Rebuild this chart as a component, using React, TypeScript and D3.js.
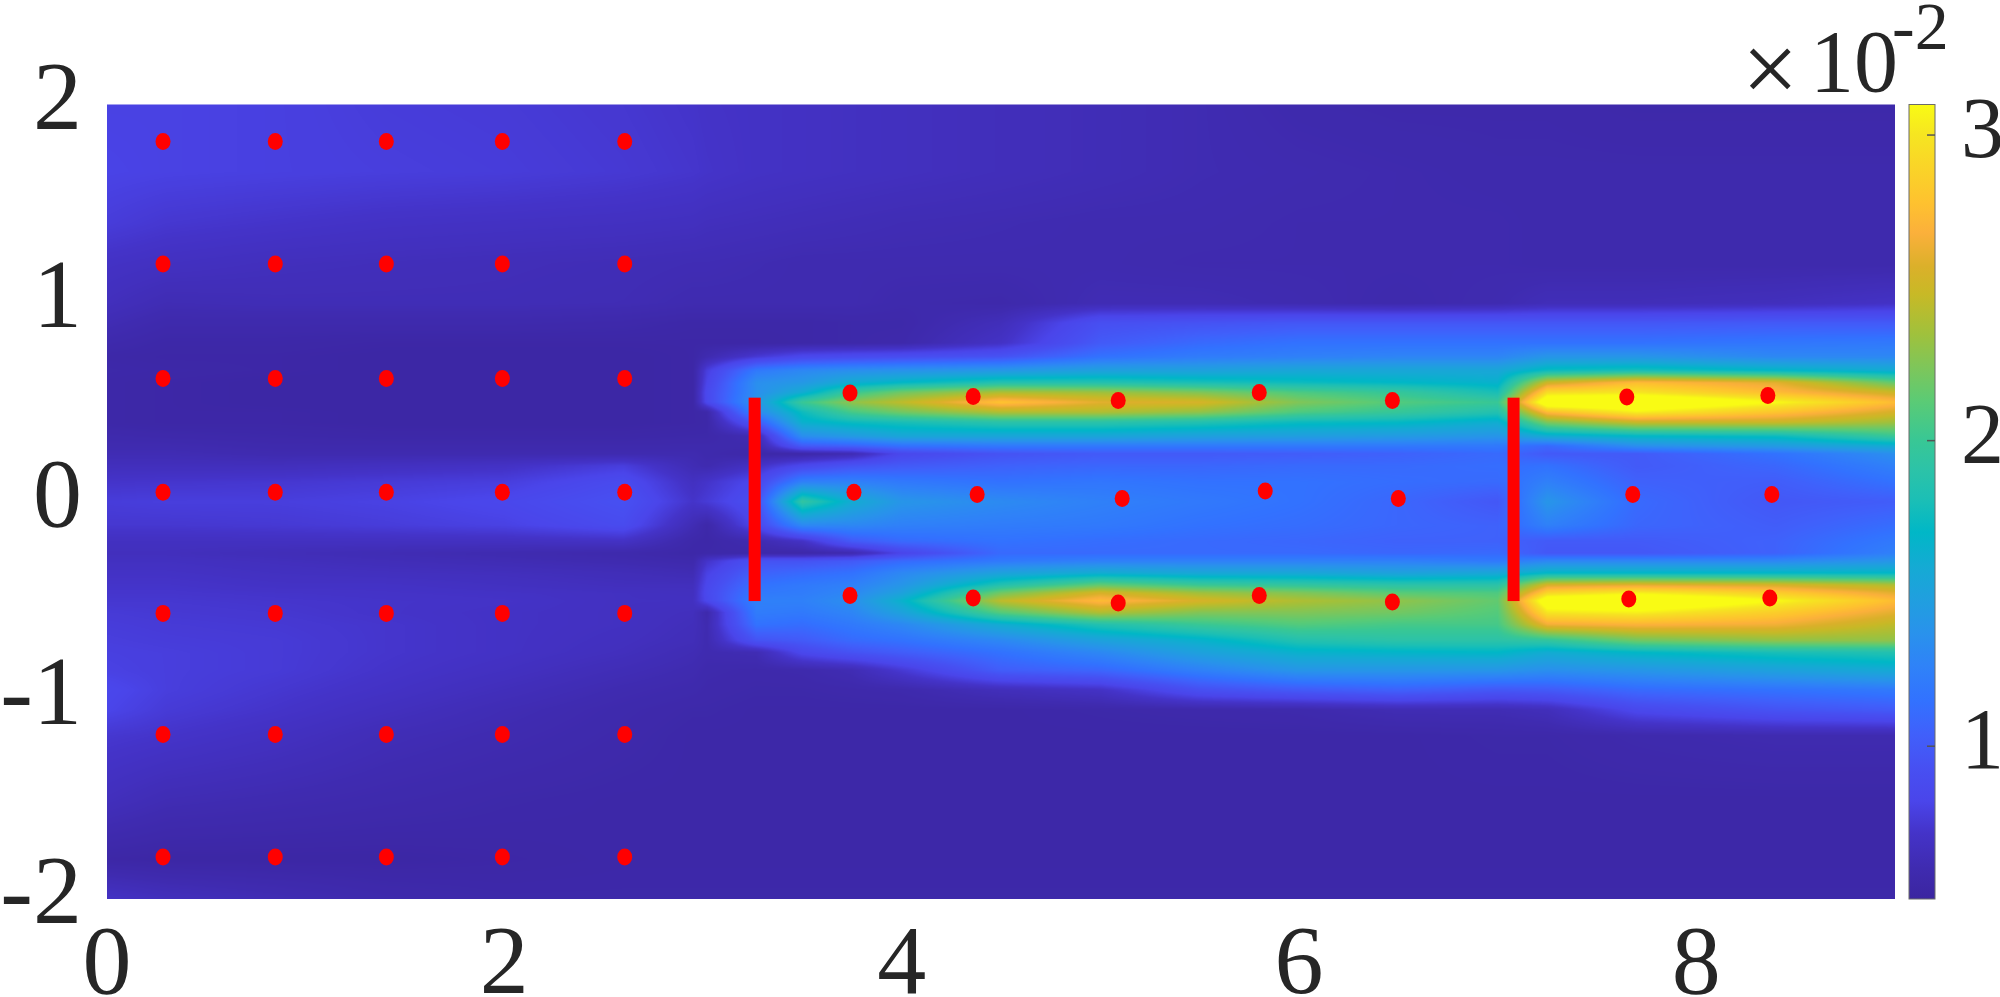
import React, { useMemo } from 'react';
import * as d3 from 'd3';

// tick labels
const xTicks = [0, 2, 4, 6, 8];
const yTicks = [2, 1, 0, -1, -2];
const cbTicks = [3, 2, 1];

// sensors
const dotsX = [0.282, 0.847, 1.406, 1.99, 2.606];
const dotsY = [1.814, 1.197, 0.62, 0.048, -0.562, -1.172, -1.788];
const wakeTop = [[3.74, 0.548], [4.36, 0.53], [5.09, 0.51], [5.8, 0.55], [6.47, 0.51], [7.65, 0.527], [8.36, 0.535]];
const wakeMid = [[3.76, 0.048], [4.38, 0.036], [5.11, 0.016], [5.83, 0.054], [6.5, 0.016], [7.68, 0.036], [8.38, 0.036]];
const wakeBot = [[3.74, -0.472], [4.36, -0.485], [5.09, -0.51], [5.8, -0.472], [6.47, -0.505], [7.66, -0.49], [8.37, -0.485]];
const barsX = [3.26, 7.08];
const barY = [0.524, -0.5];

// colour bar, value (x 10^-2) and colour
const cmapV = [0.5, 0.6, 0.715, 0.82, 0.93, 1.04, 1.15, 1.26, 1.37, 1.48, 1.585, 1.7, 1.81, 1.91, 2.0, 2.13, 2.24, 2.35, 2.48, 2.57, 2.68, 2.78, 3.0, 3.1];
const cmapC = ['#3b25a0', '#3f2bb0', '#4433c8', '#4a45ea', '#4750f2', '#4060fb', '#3272ff', '#2f82f8', '#2992ec', '#209fdf', '#15aad4', '#00b7c7', '#1cbfb5', '#2dc3a7', '#38c795', '#5bcb75', '#7ec65a', '#a0c13c', '#c8b926', '#dbb02a', '#fbb03b', '#fec22f', '#f6e521', '#f9fb14'];

// field samples: one row per y level, one value per gridX column (x 10^-2)
const gridX = [0, 0.3, 0.85, 1.4, 2, 2.6, 2.95, 3.02, 3.27, 3.5, 3.75, 4, 4.5, 5, 5.5, 6, 6.5, 7, 7.25, 7.7, 8.4, 9];
const gridY = [2, 1.66, 1.4, 1.2, 1, 0.9, 0.8, 0.73, 0.66, 0.6, 0.55, 0.5, 0.45, 0.4, 0.33, 0.28, 0.24, 0.18, 0.1, 0, -0.12, -0.2, -0.26, -0.3, -0.36, -0.42, -0.46, -0.5, -0.56, -0.62, -0.7, -0.76, -0.85, -0.95, -1.05, -1.18, -1.5, -1.8, -2];
const rowA = [.80, .80, .79, .77, .76, .74, .72, .71, .70, .69, .68, .67, .65, .63, .61, .58, .57, .57, .57, .56, .56, .56];
const rowB = [.81, .80, .79, .78, .77, .75, .73, .72, .70, .69, .68, .67, .65, .63, .61, .60, .59, .58, .58, .58, .58, .58];
const rowC = [.77, .74, .72, .70, .69, .68, .67, .66, .65, .64, .63, .62, .61, .60, .60, .59, .59, .59, .58, .58, .58, .58];
const rowD = [.70, .68, .66, .65, .64, .63, .62, .62, .61, .60, .60, .60, .60, .60, .59, .59, .59, .59, .58, .58, .58, .58];
const rowE = [.66, .62, .63, .63, .63, .62, .60, .60, .60, .60, .60, .58, .57, .62, .62, .60, .58, .60, .64, .64, .66, .70];
const rowF = [.62, .58, .58, .58, .58, .57, .55, .55, .55, .55, .56, .56, .65, .92, .95, .98, .98, .98, .98, .98, 1.0, 1.0];
const rowG = [.58, .55, .55, .54, .54, .54, .54, .54, .54, .55, .56, .57, .70, 1.0, 1.1, 1.15, 1.15, 1.15, 1.15, 1.15, 1.18, 1.2];
const rowH = [.55, .54, .54, .53, .53, .53, .54, .60, .75, .85, .88, .90, .95, 1.15, 1.22, 1.25, 1.28, 1.28, 1.4, 1.4, 1.3, 1.3];
const rowI = [.56, .55, .54, .53, .53, .53, .54, .78, 1.2, 1.3, 1.35, 1.38, 1.42, 1.5, 1.5, 1.55, 1.55, 1.55, 1.75, 1.8, 1.7, 1.6];
const rowJ = [.55, .54, .53, .53, .53, .53, .54, .82, 1.35, 1.42, 1.6, 1.7, 1.85, 1.85, 1.8, 1.75, 1.7, 1.65, 2.5, 2.75, 2.6, 2.15];
const rowK = [.55, .54, .53, .53, .53, .53, .54, .86, 1.35, 1.6, 2.0, 2.2, 2.4, 2.35, 2.25, 2.08, 1.98, 1.8, 2.95, 3.0, 2.75, 2.5];
const rowL = [.55, .54, .53, .53, .53, .53, .54, .85, 1.4, 2.0, 2.3, 2.45, 2.8, 2.6, 2.55, 2.25, 2.1, 2.0, 3.35, 3.4, 3.1, 2.75];
const rowM = [.55, .54, .54, .53, .53, .53, .54, .56, 1.3, 1.75, 2.05, 2.2, 2.4, 2.4, 2.3, 2.08, 1.98, 1.85, 2.75, 3.05, 2.8, 2.55];
const rowN = [.55, .54, .54, .53, .53, .53, .54, .55, 1.0, 1.65, 1.75, 1.8, 1.9, 1.9, 1.85, 1.75, 1.72, 1.62, 2.25, 2.5, 2.5, 2.35];
const rowO = [.58, .57, .56, .55, .55, .55, .56, .56, .62, 1.35, 1.45, 1.55, 1.55, 1.55, 1.5, 1.48, 1.45, 1.4, 1.6, 1.7, 1.75, 2.0];
const rowP = [.6, .6, .58, .58, .58, .58, .58, .58, .58, 1.0, 1.05, 1.15, 1.2, 1.2, 1.2, 1.2, 1.2, 1.2, 1.1, 1.35, 1.45, 1.6];
const rowQ = [.62, .62, .6, .6, .6, .6, .6, .58, .56, .56, .62, .85, .95, 1.0, 1.0, 1.02, 1.05, 1.1, 1.0, 1.0, 1.15, 1.35];
const rowR = [.66, .66, .66, .68, .7, .78, .62, .6, .7, .85, .95, 1.0, 1.05, 1.08, 1.08, 1.1, 1.1, 1.12, 1.15, 1.0, 1.08, 1.25];
const rowS = [.72, .73, .74, .76, .78, .88, .68, .72, .85, 1.25, 1.25, 1.2, 1.15, 1.18, 1.15, 1.15, 1.12, 1.1, 1.25, 1.05, 1.02, 1.15];
const rowT = [.77, .78, .78, .8, .84, .93, .72, .76, .92, 1.95, 1.6, 1.4, 1.32, 1.25, 1.2, 1.15, 1.08, .98, 1.4, 1.1, .98, 1.02];
const rowU = [.74, .74, .75, .77, .8, .88, .62, .56, .85, 1.3, 1.3, 1.25, 1.22, 1.2, 1.15, 1.12, 1.08, 1.05, 1.25, 1.08, 1.02, 1.12];
const rowV = [.68, .68, .68, .68, .68, .7, .56, .55, .6, .7, 1.0, 1.1, 1.15, 1.12, 1.1, 1.08, 1.05, 1.05, 1.0, 1.0, 1.05, 1.2];
const rowW = [.66, .66, .64, .62, .6, .58, .55, .56, .56, .56, .6, .82, 1.1, 1.1, 1.1, 1.1, 1.08, 1.1, .98, .98, 1.05, 1.25];
const rowX = [.68, .68, .66, .64, .62, .6, .58, .72, .95, .95, 1.0, 1.1, 1.2, 1.25, 1.25, 1.25, 1.25, 1.2, 1.3, 1.3, 1.3, 1.4];
const rowY = [.7, .7, .68, .67, .66, .64, .62, .80, 1.05, 1.1, 1.15, 1.3, 1.5, 1.6, 1.55, 1.55, 1.5, 1.55, 1.7, 1.7, 1.7, 1.7];
const rowZ = [.72, .72, .7, .7, .68, .66, .66, .84, 1.15, 1.2, 1.25, 1.4, 1.85, 2.15, 2.0, 1.95, 1.9, 1.9, 2.55, 2.6, 2.55, 2.4];
const rowAa = [.73, .73, .72, .71, .7, .68, .67, .86, 1.2, 1.22, 1.3, 1.5, 2.2, 2.55, 2.35, 2.25, 2.12, 2.08, 2.9, 3.05, 2.85, 2.6];
const rowAb = [.74, .74, .73, .72, .71, .68, .68, .84, 1.25, 1.25, 1.35, 1.65, 2.45, 2.75, 2.55, 2.4, 2.3, 2.15, 3.3, 3.4, 3.1, 2.75];
const rowAc = [.76, .75, .74, .72, .7, .68, .66, .58, 1.22, 1.2, 1.28, 1.5, 2.1, 2.4, 2.25, 2.25, 2.2, 2.1, 3.0, 3.05, 2.85, 2.6];
const rowAd = [.77, .76, .75, .73, .7, .68, .65, .6, 1.15, 1.12, 1.2, 1.3, 1.6, 1.85, 2.0, 2.1, 2.05, 2.05, 2.65, 2.7, 2.65, 2.45];
const rowAe = [.78, .77, .76, .73, .7, .67, .64, .6, .95, 1.0, 1.1, 1.15, 1.3, 1.5, 1.65, 1.85, 1.9, 1.9, 1.95, 2.2, 2.3, 2.3];
const rowAf = [.79, .78, .76, .73, .7, .66, .62, .6, .62, .85, .95, 1.02, 1.15, 1.3, 1.5, 1.65, 1.68, 1.7, 1.6, 1.7, 1.8, 1.85];
const rowAg = [.8, .78, .76, .72, .68, .63, .6, .58, .57, .58, .62, .75, 1.02, 1.08, 1.25, 1.4, 1.4, 1.4, 1.35, 1.4, 1.5, 1.58];
const rowAh = [.84, .78, .74, .7, .65, .6, .58, .57, .56, .56, .57, .58, .65, .7, .92, 1.0, 1.05, .98, 1.0, 1.1, 1.15, 1.2];
const rowAi = [.82, .76, .72, .67, .62, .58, .56, .56, .55, .55, .55, .55, .55, .56, .57, .58, .62, .62, .65, .85, .95, 1.0];
const rowAj = [.74, .72, .68, .63, .6, .57, .55, .55, .55, .55, .55, .55, .55, .55, .55, .55, .55, .56, .56, .58, .6, .6];
const rowAk = [.66, .62, .6, .58, .56, .55, .55, .55, .55, .55, .55, .55, .55, .55, .55, .55, .55, .55, .55, .55, .55, .55];
const rowAl = [.54, .53, .53, .53, .54, .55, .55, .55, .55, .55, .55, .55, .55, .55, .55, .55, .55, .55, .55, .55, .55, .55];
const rowAm = [.7, .66, .62, .58, .56, .56, .56, .56, .56, .56, .56, .56, .56, .56, .56, .56, .56, .56, .56, .56, .56, .56];
const gridZ = [rowA, rowB, rowC, rowD, rowE, rowF, rowG, rowH, rowI, rowJ, rowK, rowL, rowM, rowN, rowO, rowP, rowQ, rowR, rowS, rowT, rowU, rowV, rowW, rowX, rowY, rowZ, rowAa, rowAb, rowAc, rowAd, rowAe, rowAf, rowAg, rowAh, rowAi, rowAj, rowAk, rowAl, rowAm];

const width = 2000;
const height = 997;
const plot = { left: 107, right: 1895, top: 104.5, bottom: 899 };
const bar = { left: 1909, right: 1935 };
const textColor = '#262626';
const font = '"Liberation Serif", serif';

const xScale = d3.scaleLinear().domain([0, 9]).range([plot.left, plot.right]);
const yScale = d3.scaleLinear().domain([-2, 2]).range([plot.bottom, plot.top]);
const cbScale = d3.scaleLinear().domain([0.5, 3.1]).range([plot.bottom, plot.top]);
const colorScale = d3.scaleLinear<string>().domain(cmapV).range(cmapC).clamp(true);

// bilinear lookup in the sampled field, same idea as shading interp
function sampleField(x: number, y: number) {
  const i = Math.min(d3.bisectRight(gridX, x), gridX.length - 1) - 1;
  let j = 0;
  while (j < gridY.length - 2 && gridY[j + 1] > y) j++;
  const tx = (x - gridX[i]) / (gridX[i + 1] - gridX[i]);
  const ty = (gridY[j] - y) / (gridY[j] - gridY[j + 1]);
  const top = gridZ[j][i] * (1 - tx) + gridZ[j][i + 1] * tx;
  const bot = gridZ[j + 1][i] * (1 - tx) + gridZ[j + 1][i + 1] * tx;
  return top * (1 - ty) + bot * ty;
}

function renderField() {
  const w = Math.round(plot.right - plot.left);
  const h = Math.round(plot.bottom - plot.top);
  const canvas = document.createElement('canvas');
  canvas.width = w;
  canvas.height = h;
  const ctx = canvas.getContext('2d')!;
  const img = ctx.createImageData(w, h);

  // lookup table so the colour parsing only happens once per level
  const lut = d3.range(1024).map(k => {
    const c = d3.rgb(colorScale(0.5 + (k / 1023) * 2.6));
    return [c.r, c.g, c.b];
  });

  for (let py = 0; py < h; py++) {
    const y = yScale.invert(plot.top + py + 0.5);
    for (let px = 0; px < w; px++) {
      const x = xScale.invert(plot.left + px + 0.5);
      const k = Math.max(0, Math.min(1023, Math.round(((sampleField(x, y) - 0.5) / 2.6) * 1023)));
      const o = (py * w + px) * 4;
      img.data[o] = lut[k][0];
      img.data[o + 1] = lut[k][1];
      img.data[o + 2] = lut[k][2];
      img.data[o + 3] = 255;
    }
  }
  ctx.putImageData(img, 0, 0);
  return canvas.toDataURL();
}

export default function App() {
  const fieldHref = useMemo(() => renderField(), []);
  const wakeDots = [...wakeTop, ...wakeMid, ...wakeBot];
  const gridDots = dotsY.flatMap(y => dotsX.map(x => [x, y]));

  return (
    <svg width={width} height={height} style={{ position: 'absolute', left: 0, top: 0, display: 'block' }} fontFamily={font} fill={textColor}>
      <defs>
        <linearGradient id="cb" x1="0" x2="0" y1="1" y2="0">
          {cmapV.map((v, i) => (
            <stop key={v} offset={(v - 0.5) / 2.6} stopColor={cmapC[i]} />
          ))}
        </linearGradient>
      </defs>

      <image href={fieldHref} x={plot.left} y={plot.top} width={plot.right - plot.left} height={plot.bottom - plot.top} preserveAspectRatio="none" />

      {gridDots.map(([x, y], i) => (
        <ellipse key={'g' + i} cx={xScale(x)} cy={yScale(y)} rx={7.5} ry={8.5} fill="#ff0000" />
      ))}
      {wakeDots.map(([x, y], i) => (
        <ellipse key={'w' + i} cx={xScale(x)} cy={yScale(y)} rx={7.5} ry={8.5} fill="#ff0000" />
      ))}
      {barsX.map(x => (
        <rect key={x} x={xScale(x) - 6} y={yScale(barY[0])} width={12} height={yScale(barY[1]) - yScale(barY[0])} fill="#ff0000" />
      ))}

      {xTicks.map(t => (
        <text key={t} x={xScale(t)} y={993} fontSize={98} textAnchor="middle">{t}</text>
      ))}
      {yTicks.map(t => (
        <text key={t} x={82} y={yScale(t) + 24} fontSize={98} textAnchor="end">{t}</text>
      ))}

      {/* colour bar */}
      <rect x={bar.left} y={plot.top} width={bar.right - bar.left} height={plot.bottom - plot.top} fill="url(#cb)" stroke="#6b6b6b" strokeWidth={1} />
      {cbTicks.map(t => (
        <line key={t} x1={bar.right - 8} x2={bar.right} y1={cbScale(t)} y2={cbScale(t)} stroke="#555" strokeWidth={1.5} />
      ))}
      {cbTicks.map(t => (
        <text key={t} x={1961} y={cbScale(t) + 22} fontSize={86}>{t}</text>
      ))}

      {/* exponent */}
      <text x={1742} y={102} fontSize={100}>×</text>
      <text x={1810} y={91} fontSize={88}>10</text>
      <text x={1892} y={49} fontSize={68}>-2</text>
    </svg>
  );
}
